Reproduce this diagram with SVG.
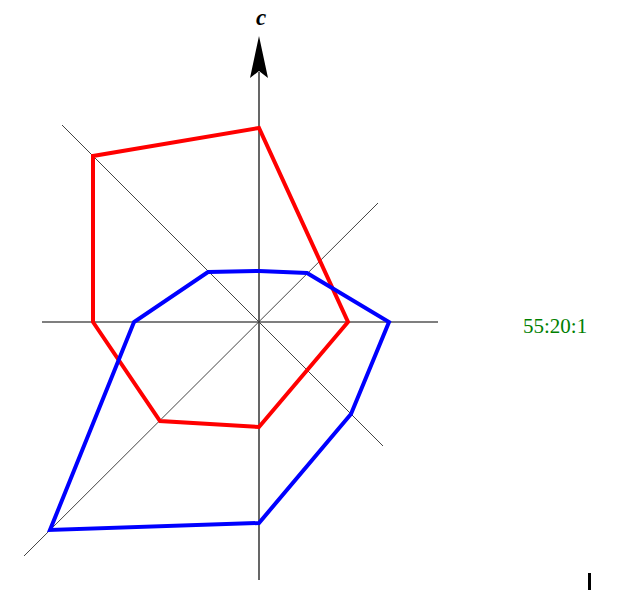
<svg xmlns="http://www.w3.org/2000/svg" width="634" height="590" viewBox="0 0 634 590">
<style>
.axis{stroke:#000;stroke-width:1.2;fill:none}
.diag{stroke:#444;stroke-width:1;fill:none}
.poly{fill:none;stroke-width:4;stroke-linejoin:miter}
</style>
<rect width="634" height="590" fill="#fff"/>
<g id="connectors">
<line class="axis" x1="42" y1="322" x2="438" y2="322"/>
<line class="axis" x1="259" y1="72" x2="259" y2="580"/>
<line class="diag" x1="62" y1="125" x2="383" y2="446"/>
<line class="diag" x1="24" y1="556" x2="378" y2="203"/>
<path id="arrow" d="M259,36 L268,78 L259,71 L250,78 Z" fill="#000"/>
</g>
<g id="red-poly">
<polygon class="poly" stroke="#ff0000" points="259,128 93,156 93,322 160,421 259,427 348,322"/>
</g>
<g id="blue-poly">
<polygon class="poly" stroke="#0000ff" points="208,272 259,271 307,273 389,322 351,414 259,523 50,530 134,322"/>
</g>
<g id="label-c">
<text x="261" y="25" font-family="Liberation Serif, serif" font-style="italic" font-weight="bold" font-size="23" text-anchor="middle">c</text>
</g>
<g id="ratio">
<text x="523" y="333" font-family="Liberation Serif, serif" font-size="21" fill="#008000">55:20:1</text>
</g>
<rect x="588" y="573" width="3" height="17" fill="#000"/>
</svg>
